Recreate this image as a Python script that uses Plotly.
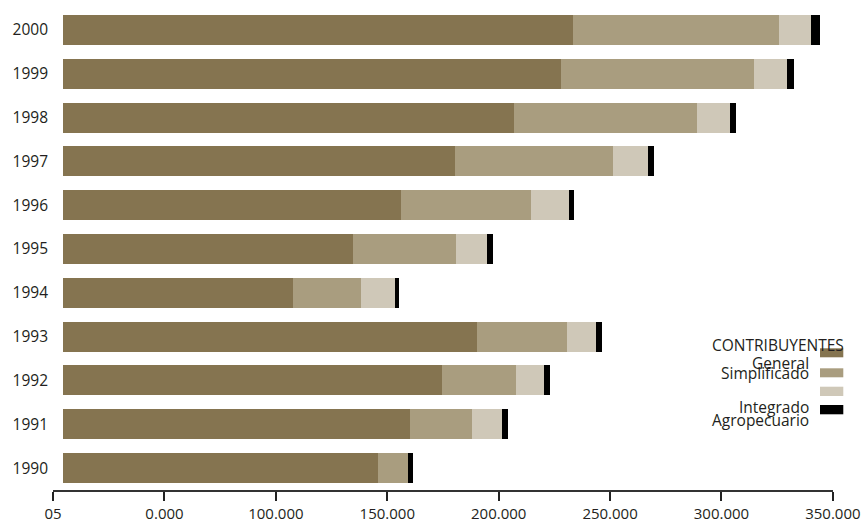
import plotly.graph_objects as go

# ---- data ----
years = ["1990", "1991", "1992", "1993", "1994", "1995", "1996", "1997", "1998", "1999", "2000"]
general = [141500, 155700, 170000, 186000, 103100, 130200, 152000, 176100, 202600, 223600, 228800]
simplificado = [13600, 27900, 33200, 40400, 30800, 46100, 58100, 70800, 81900, 86500, 92500]
otros = [0, 13600, 12800, 12900, 15100, 14100, 17200, 15700, 15000, 15000, 14300]
agropecuario = [2100, 2800, 2800, 2900, 2100, 2800, 2100, 2900, 2800, 2900, 4400]
tick_labels = ["05", "0.000", "100.000", "150.000", "200.000", "250.000", "300.000", "350.000"]
legend_title = "CONTRIBUYENTES"
series_names = ["General", "Simplificado", "", "Integrado Agropecuario"]
colors = ["#857450", "#a99d7f", "#cfc8b8", "#000000"]

series = [general, simplificado, otros, agropecuario]

W, H = 863, 525
ML, MR, MT, MB = 53, 30, 8, 35
PW, PH = W - ML - MR, H - MT - MB

FONT = "Open Sans"
TXT = "#231f20"

fig = go.Figure()
for vals, name, col in zip(series, series_names, colors):
    fig.add_trace(go.Bar(
        y=years, x=vals, orientation="h", name=name or "Otros",
        marker=dict(color=col, line=dict(width=0)),
        showlegend=False,
    ))

# axis offset: the printed scale starts slightly left of the bar base
axis_offset = -4357
tickvals = [axis_offset + 50000 * i for i in range(len(tick_labels))]


def px(x):
    return (x - ML) / PW


def py(y):
    return (H - MB - y) / PH


shapes = []
annotations = []
# legend swatches
sw_rows = [(348.3, 357.3), (368.3, 377.3), (386.7, 396.0), (405.0, 414.3)]
for (y0, y1), col in zip(sw_rows, colors):
    shapes.append(dict(type="rect", xref="paper", yref="paper",
                       x0=px(820), x1=px(843.3), y0=py(y1), y1=py(y0),
                       fillcolor=col, line=dict(width=0)))

legend_texts = [
    (legend_title, 846, 345),
    (series_names[0], 811, 363),
    (series_names[1], 811, 373),
    (series_names[3].split(" ")[0], 811, 407),
    (series_names[3].split(" ")[1], 811, 420),
]
for t, x, y in legend_texts:
    annotations.append(dict(text=t, xref="paper", yref="paper", x=px(x), y=py(y),
                            xanchor="right", yanchor="middle", showarrow=False,
                            font=dict(family=FONT, size=15.5, color=TXT)))

fig.update_layout(
    width=W, height=H,
    margin=dict(l=ML, r=MR, t=MT, b=MB, pad=0, autoexpand=False),
    barmode="stack", bargap=0.315,
    plot_bgcolor="white", paper_bgcolor="white",
    font=dict(family=FONT, size=15.5, color=TXT),
    xaxis=dict(range=[-4400, 345700], tickvals=tickvals, ticktext=tick_labels,
               showgrid=False, zeroline=False, showline=True, linecolor="#333333",
               linewidth=1.5, ticks="outside", ticklen=9, tickwidth=1.5,
               tickcolor="#222222", tickfont=dict(family=FONT, size=15, color=TXT),
               automargin=False, ticklabelstandoff=0, fixedrange=True),
    yaxis=dict(type="category", categoryorder="array", categoryarray=years,
               range=[-0.5, len(years) - 0.5], showgrid=False, zeroline=False,
               showline=False, ticks="", ticklabelstandoff=4, automargin=False,
               tickfont=dict(family=FONT, size=15.5, color=TXT), fixedrange=True),
    shapes=shapes, annotations=annotations,
)

fig.write_html("out.html")
